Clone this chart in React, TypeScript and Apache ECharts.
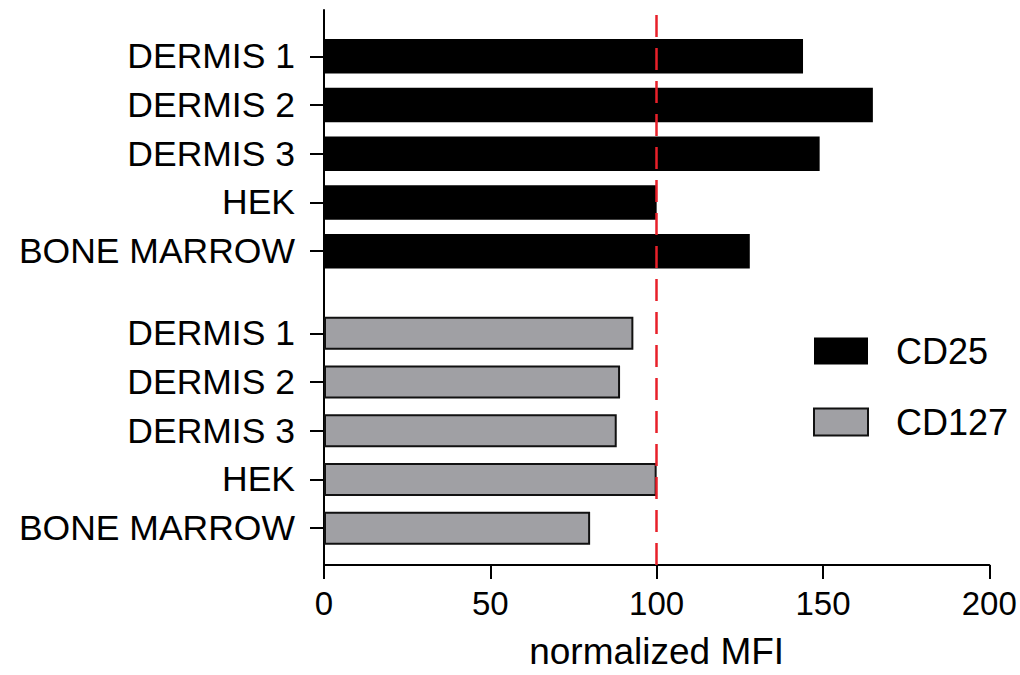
import React, { useEffect, useRef } from "react";
import * as echarts from "echarts";

const categories = ["DERMIS 1", "DERMIS 2", "DERMIS 3", "HEK", "BONE MARROW"];
const cd25Values = [144, 165, 149, 100, 128];
const cd127Values = [93, 89, 88, 100, 80];
const referenceValue = 100;
const xMin = 0;
const xMax = 200;
const xInterval = 50;

const FONT = "'Liberation Sans', Arial, Helvetica, sans-serif";

export default function App() {
  const ref = useRef<HTMLDivElement>(null);

  useEffect(() => {
    if (!ref.current) return;
    const chart = echarts.init(ref.current, undefined, { renderer: "svg" });
    const left = 324;
    const right = 1020 - 989.3;
    const hiddenX = (gridIndex: number) => ({
      type: "value",
      gridIndex,
      min: xMin,
      max: xMax,
      interval: xInterval,
      show: false,
      splitLine: { show: false },
    });
    const catY = (gridIndex: number) => ({
      type: "category",
      gridIndex,
      data: categories,
      inverse: true,
      axisLine: { show: false },
      axisTick: {
        show: true,
        alignWithLabel: true,
        length: 14,
        lineStyle: { color: "#000", width: 2 },
      },
      axisLabel: {
        margin: 29,
        color: "#000",
        fontSize: 35.5,
        fontFamily: FONT,
      },
    });
    chart.setOption({
      animation: false,
      backgroundColor: "#fff",
      textStyle: { fontFamily: FONT },
      grid: [
        { left, right, top: 10, bottom: 675 - 569, containLabel: false },
        { left, right, top: 32, height: 243.5, containLabel: false },
        { left, right, top: 309, height: 243.5, containLabel: false },
      ],
      xAxis: [
        {
          type: "value",
          gridIndex: 0,
          min: xMin,
          max: xMax,
          interval: xInterval,
          splitLine: { show: false },
          axisLine: { show: true, lineStyle: { color: "#000", width: 2 } },
          axisTick: { show: true, length: 14, lineStyle: { color: "#000", width: 2 } },
          axisLabel: { margin: 22, color: "#000", fontSize: 33, fontFamily: FONT },
          name: "normalized MFI",
          nameLocation: "middle",
          nameGap: 68,
          nameTextStyle: { color: "#000", fontSize: 37, fontFamily: FONT },
        },
        hiddenX(1),
        hiddenX(2),
      ],
      yAxis: [
        {
          type: "value",
          gridIndex: 0,
          min: 0,
          max: 1,
          axisLine: { show: true, lineStyle: { color: "#000", width: 2 } },
          axisTick: { show: false },
          axisLabel: { show: false },
          splitLine: { show: false },
        },
        catY(1),
        catY(2),
      ],
      legend: {
        orient: "vertical",
        left: 813,
        top: 333,
        padding: 0,
        itemWidth: 54,
        itemHeight: 27,
        itemGap: 35,
        icon: "rect",
        data: ["CD25", "CD127"],
        textStyle: {
          color: "#000",
          fontSize: 36,
          fontFamily: FONT,
          lineHeight: 27,
          padding: [0, 0, 0, 23],
        },
      },
      series: [
        {
          name: "CD25",
          type: "bar",
          xAxisIndex: 1,
          yAxisIndex: 1,
          data: cd25Values,
          barWidth: 34.5,
          itemStyle: { color: "#000" },
        },
        {
          name: "CD127",
          type: "bar",
          xAxisIndex: 2,
          yAxisIndex: 2,
          data: cd127Values,
          barWidth: 33,
          itemStyle: { color: "#a0a0a4", borderColor: "#111", borderWidth: 2 },
        },
        {
          name: "ref",
          type: "line",
          xAxisIndex: 0,
          yAxisIndex: 0,
          data: [],
          z: 10,
          markLine: {
            silent: true,
            symbol: ["none", "none"],
            label: { show: false },
            lineStyle: { color: "#e8202a", width: 2.5, type: [22, 11] },
            data: [[{ coord: [referenceValue, 0] }, { coord: [referenceValue, 0.993] }]],
          },
        },
      ],
    });
    return () => chart.dispose();
  }, []);

  return (
    <div
      ref={ref}
      style={{ position: "fixed", left: 0, top: 0, width: 1020, height: 675 }}
    />
  );
}
